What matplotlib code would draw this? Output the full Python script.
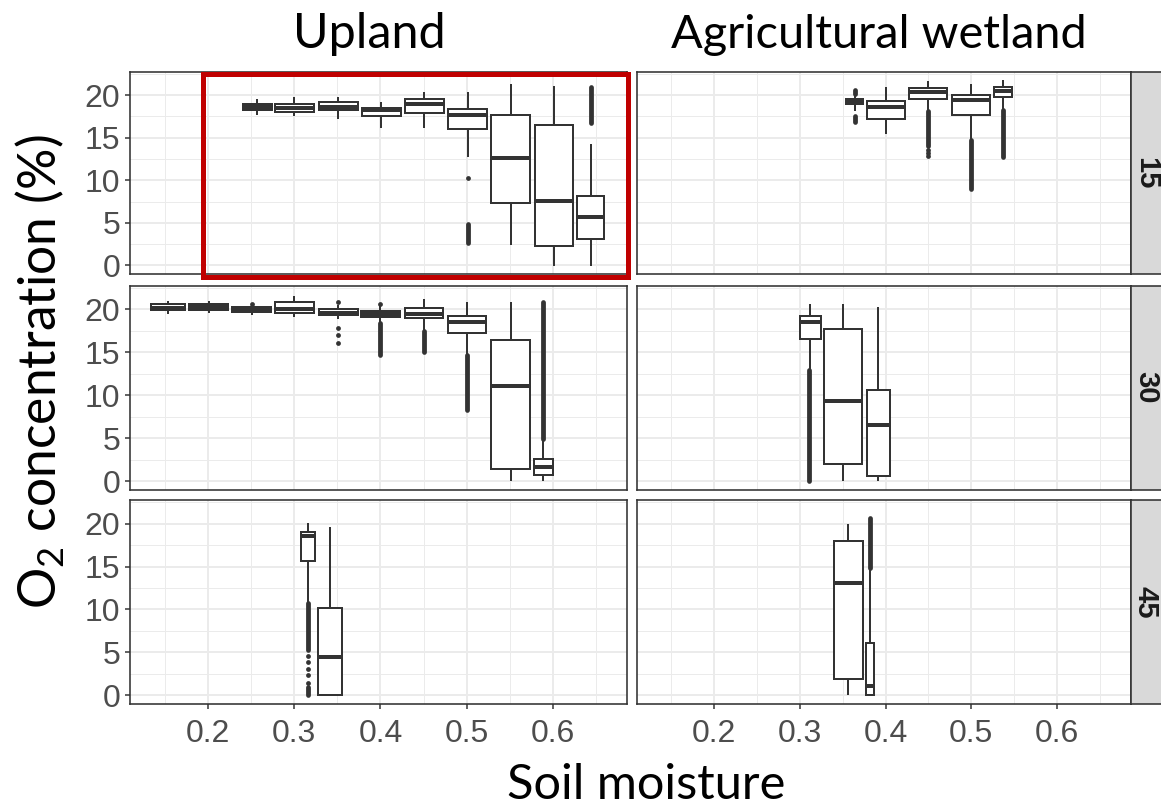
import matplotlib
matplotlib.use("Agg")
import matplotlib.pyplot as plt
from matplotlib.patches import Rectangle

# ---------------- data ----------------
columns = ["Upland", "Agricultural wetland"]
depths = ["15", "30", "45"]
x_ticks = [0.2, 0.3, 0.4, 0.5, 0.6]
x_tick_labels = ["0.2", "0.3", "0.4", "0.5", "0.6"]
y_ticks = [0, 5, 10, 15, 20]
y_tick_labels = ["0", "5", "10", "15", "20"]

# Upland, 15 cm
up15_x = [0.257, 0.300, 0.351, 0.401, 0.451, 0.501, 0.551, 0.601, 0.644]
up15_w = [0.034, 0.045, 0.045, 0.0445, 0.0445, 0.0445, 0.0445, 0.0445, 0.031]
up15_whislo = [17.8, 17.7, 17.3, 16.3, 16.2, 12.9, 2.5, 0.0, 0.0]
up15_q1 = [18.3, 18.05, 18.2, 17.5, 17.9, 16.0, 7.3, 2.3, 3.1]
up15_med = [18.6, 18.5, 18.6, 18.2, 18.9, 17.7, 12.6, 7.6, 5.7]
up15_q3 = [18.9, 18.9, 19.15, 18.5, 19.6, 18.4, 17.7, 16.5, 8.2]
up15_whishi = [19.4, 19.7, 19.7, 19.1, 20.3, 20.2, 21.2, 21.0, 14.1]
up15_fliers = [[], [], [], [], [], [10.25], [], [], []]
up15_bands = [(0.501, 2.6, 4.9), (0.644, 16.7, 21.0)]

# Agricultural wetland, 15 cm
aw15_x = [0.364, 0.401, 0.450, 0.500, 0.537]
aw15_w = [0.020, 0.0445, 0.0445, 0.0445, 0.021]
aw15_whislo = [18.3, 15.6, 18.3, 14.9, 18.5]
aw15_q1 = [18.9, 17.2, 19.6, 17.7, 19.8]
aw15_med = [19.2, 18.6, 20.35, 19.4, 20.5]
aw15_q3 = [19.5, 19.3, 20.8, 20.0, 21.0]
aw15_whishi = [19.9, 20.8, 21.5, 21.2, 21.7]
aw15_fliers = [[], [], [13.6, 13.2, 12.8], [], []]
aw15_bands = [(0.364, 20.1, 20.6), (0.364, 16.9, 17.5), (0.450, 14.0, 18.1),
              (0.500, 9.0, 14.7), (0.537, 12.7, 18.2)]

# Upland, 30 cm
up30_x = [0.154, 0.2008, 0.2505, 0.300, 0.351, 0.400, 0.4506, 0.5005, 0.551, 0.589]
up30_w = [0.0395, 0.045, 0.045, 0.045, 0.045, 0.0445, 0.0445, 0.0445, 0.0445, 0.0225]
up30_whislo = [19.6, 19.7, 19.5, 19.2, 19.0, 18.5, 17.5, 14.7, 0.08, 0.08]
up30_q1 = [19.92, 19.92, 19.68, 19.6, 19.3, 19.1, 18.95, 17.27, 1.4, 0.66]
up30_med = [20.2, 20.3, 20.0, 20.0, 19.6, 19.4, 19.5, 18.5, 11.1, 1.63]
up30_q3 = [20.57, 20.65, 20.3, 20.85, 20.0, 19.8, 20.1, 19.17, 16.4, 2.56]
up30_whishi = [20.9, 20.9, 20.4, 21.4, 20.4, 20.4, 21.1, 20.7, 20.7, 4.9]
up30_fliers = [[], [], [20.65], [], [20.9, 17.8, 17.0, 16.1], [20.65], [], [], [], []]
up30_bands = [(0.400, 14.7, 18.4), (0.4506, 15.0, 17.5), (0.5005, 8.3, 14.7),
              (0.589, 4.95, 20.8)]

# Agricultural wetland, 30 cm
aw30_x = [0.3118, 0.3507, 0.3913]
aw30_w = [0.0245, 0.0445, 0.027]
aw30_whislo = [13.2, 0.08, 0.08]
aw30_q1 = [16.6, 2.0, 0.6]
aw30_med = [18.5, 9.3, 6.5]
aw30_q3 = [19.2, 17.67, 10.6]
aw30_whishi = [20.5, 20.5, 20.2]
aw30_fliers = [[], [], []]
aw30_bands = [(0.3105, 0.0, 12.98)]

# Upland, 45 cm
up45_x = [0.316, 0.3413]
up45_w = [0.017, 0.027]
up45_whislo = [10.9, 0.07]
up45_q1 = [15.65, 0.07]
up45_med = [18.6, 4.4]
up45_q3 = [19.07, 10.18]
up45_whishi = [20.0, 19.5]
up45_fliers = [[4.6, 3.85, 3.1, 2.35, 1.45], []]
up45_bands = [(0.316, 5.3, 10.7), (0.316, 0.0, 0.95)]

# Agricultural wetland, 45 cm
aw45_x = [0.3563, 0.3818]
aw45_w = [0.034, 0.0097]
aw45_whislo = [0.1, 0.0]
aw45_q1 = [1.9, 0.04]
aw45_med = [13.05, 1.08]
aw45_q3 = [17.99, 6.1]
aw45_whishi = [19.9, 14.75]
aw45_fliers = [[], []]
aw45_bands = [(0.3818, 14.9, 20.7)]

panels = {
    (0, 0): (up15_x, up15_w, up15_whislo, up15_q1, up15_med, up15_q3, up15_whishi, up15_fliers, up15_bands),
    (0, 1): (aw15_x, aw15_w, aw15_whislo, aw15_q1, aw15_med, aw15_q3, aw15_whishi, aw15_fliers, aw15_bands),
    (1, 0): (up30_x, up30_w, up30_whislo, up30_q1, up30_med, up30_q3, up30_whishi, up30_fliers, up30_bands),
    (1, 1): (aw30_x, aw30_w, aw30_whislo, aw30_q1, aw30_med, aw30_q3, aw30_whishi, aw30_fliers, aw30_bands),
    (2, 0): (up45_x, up45_w, up45_whislo, up45_q1, up45_med, up45_q3, up45_whishi, up45_fliers, up45_bands),
    (2, 1): (aw45_x, aw45_w, aw45_whislo, aw45_q1, aw45_med, aw45_q3, aw45_whishi, aw45_fliers, aw45_bands),
}

# ---------------- layout / style ----------------
W, H = 1161, 809
PT = 72 / 100  # points per pixel at dpi 100
plt.rcParams["font.family"] = ["Liberation Sans", "DejaVu Sans"]
plt.rcParams["mathtext.fontset"] = "custom"
plt.rcParams["mathtext.rm"] = "Lato"

fig = plt.figure(figsize=(W / 100, H / 100), dpi=100)
fig.patch.set_facecolor("white")

col_x = [(130.0, 627.0), (636.7, 1130.5)]
row_y = [(71.7, 274.0), (285.7, 489.7), (500.3, 703.7)]
DARK = "#333333"
GRID = "#EBEBEB"
XLIM = (0.1094, 0.686)
YLIM = (-1.0, 22.75)


def rect(x0, x1, y0, y1):
    return [x0 / W, 1 - y1 / H, (x1 - x0) / W, (y1 - y0) / H]


for (r, c), (xs, ws, lo, q1, med, q3, hi, fl, bands) in panels.items():
    ax = fig.add_axes(rect(*col_x[c], *row_y[r]))
    ax.set_xlim(*XLIM)
    ax.set_ylim(*YLIM)
    ax.set_axisbelow(True)
    ax.set_xticks(x_ticks)
    ax.set_xticks([0.15, 0.25, 0.35, 0.45, 0.55, 0.65], minor=True)
    ax.set_yticks(y_ticks)
    ax.set_yticks([2.5, 7.5, 12.5, 17.5, 22.5], minor=True)
    ax.grid(True, which="major", color=GRID, lw=2.0 * PT)
    ax.grid(True, which="minor", color=GRID, lw=1.0 * PT)
    for s in ax.spines.values():
        s.set_color(DARK)
        s.set_linewidth(1.6 * PT)
        s.set_zorder(6)
    ax.tick_params(which="minor", length=0)
    ax.tick_params(which="major", length=5 * PT, width=1.5 * PT, color=DARK,
                   labelsize=23, labelcolor="#4D4D4D")
    ax.tick_params(axis="y", pad=5 * PT)
    ax.tick_params(axis="x", pad=10 * PT)
    if c == 0:
        ax.set_yticklabels(y_tick_labels)
    else:
        ax.tick_params(axis="y", length=0, labelleft=False)
    if r == 2:
        ax.set_xticklabels(x_tick_labels)
    else:
        ax.tick_params(axis="x", length=0, labelbottom=False)

    stats = [dict(med=m, q1=a, q3=b, whislo=l, whishi=h, fliers=f)
             for l, a, m, b, h, f in zip(lo, q1, med, q3, hi, fl)]
    ax.bxp(stats, positions=xs, widths=ws, showcaps=False, patch_artist=True,
           manage_ticks=False,
           boxprops=dict(facecolor="white", edgecolor=DARK, linewidth=2.0 * PT),
           whiskerprops=dict(color=DARK, linewidth=2.0 * PT),
           medianprops=dict(color=DARK, linewidth=4.0 * PT, solid_capstyle="butt"),
           flierprops=dict(marker="o", markerfacecolor=DARK, markeredgecolor="none",
                           markersize=4.8 * PT))
    for bx, blo, bhi in bands:
        lc = ax.vlines(bx, blo, bhi, color=DARK, lw=4.8 * PT, zorder=4)
        lc.set_capstyle("round")

    if c == 1:
        sx = fig.add_axes(rect(1130.5, 1185.0, *row_y[r]))
        sx.set_facecolor("#D9D9D9")
        sx.set_xticks([])
        sx.set_yticks([])
        for s in sx.spines.values():
            s.set_color(DARK)
            s.set_linewidth(1.6 * PT)
        yc = (row_y[r][0] + row_y[r][1]) / 2
        fig.text(1146 / W, 1 - yc / H, depths[r], rotation=270, ha="center",
                 va="center", fontsize=21, fontweight="bold", color="#1A1A1A")

renderer = fig.canvas.get_renderer()


def fitted_text(x, y, s, target_px, rotation=0, **kw):
    t = fig.text(x / W, 1 - y / H, s, rotation=rotation, family=["Lato", "DejaVu Sans"],
                 color="black", fontsize=30, **kw)
    bb = t.get_window_extent(renderer)
    cur = bb.height if rotation else bb.width
    t.set_fontsize(30 * target_px / cur)
    return t


fitted_text(369, 48, columns[0], 152, ha="center", va="baseline")
fitted_text(879, 48, columns[1], 415, ha="center", va="baseline")
fitted_text(646, 799, "Soil moisture", 278, ha="center", va="baseline")
fitted_text(40, 372, "O$_\\mathregular{2}$ concentration (%)", 475, rotation=90,
            ha="center", va="center")

fig.add_artist(Rectangle((203.3 / W, 1 - 276.5 / H), (627.5 - 203.3) / W,
                         (276.5 - 74.2) / H, transform=fig.transFigure, fill=False,
                         edgecolor="#C00000", lw=5.0 * PT, zorder=20))

fig.savefig("out.png", dpi=100)
